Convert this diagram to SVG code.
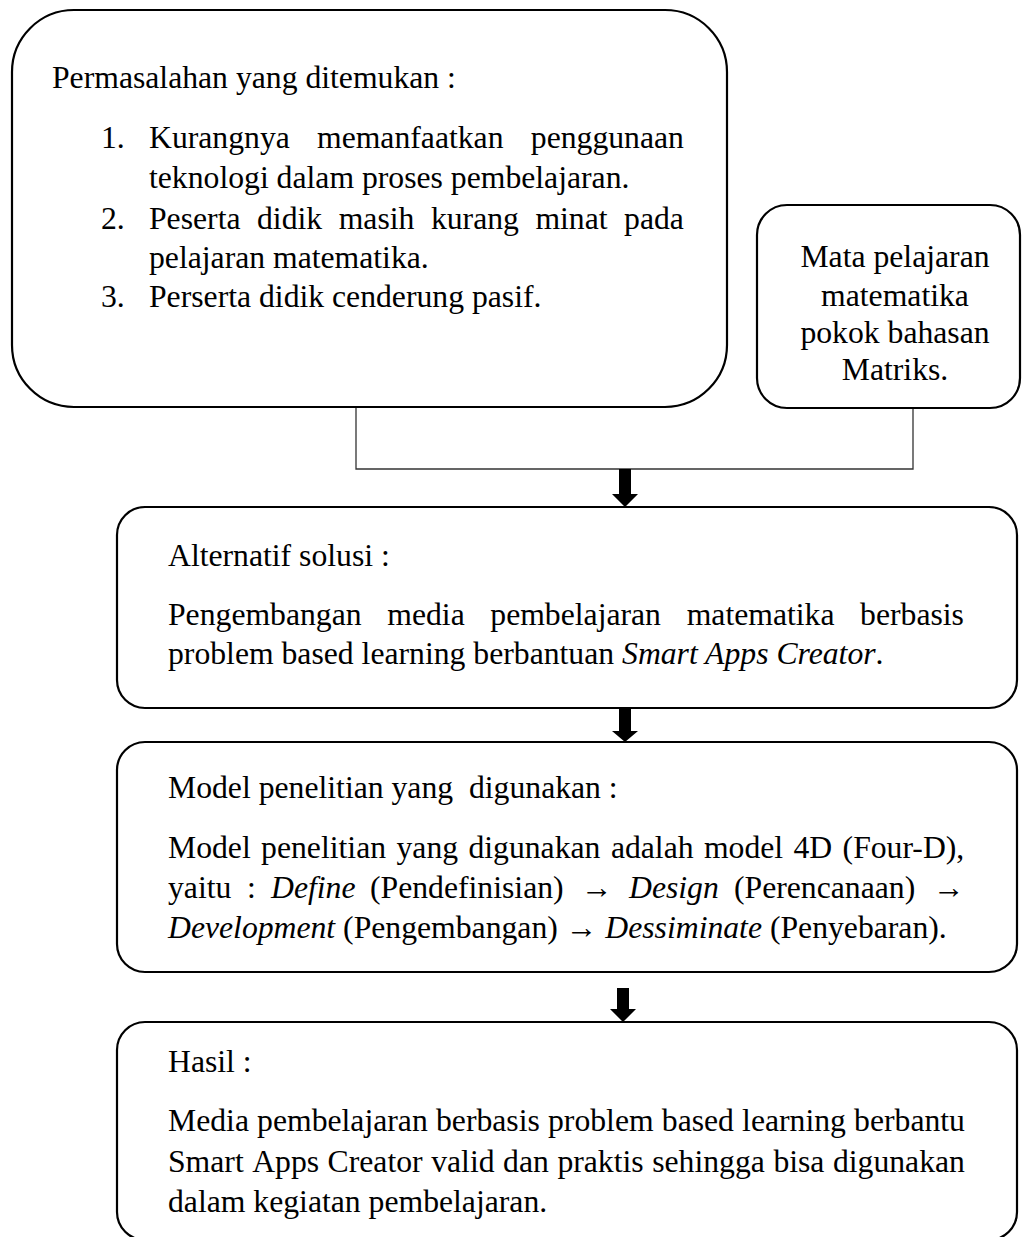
<svg xmlns="http://www.w3.org/2000/svg" width="1023" height="1237" viewBox="0 0 1023 1237">
<style>
.box{fill:#fff;stroke:#000;stroke-width:2.2}
.t{font-family:"Liberation Serif","Times New Roman",serif;font-size:31.7px;fill:#000}
.i{font-style:italic}
.conn{fill:none;stroke:#333;stroke-width:1.3}
.arr{fill:#000;stroke:none}
</style>
<rect width="1023" height="1237" fill="#fff"/>
<g id="connectors">
<path class="conn" d="M356 407 V469 H913 V408"/>
<polygon class="arr" points="619,469 631,469 631,494 638,494 625,507 612,494 619,494"/>
<polygon class="arr" points="619,709 631,709 631,731 638,731 625,742 612,731 619,731"/>
<polygon class="arr" points="617,988 629,988 629,1009 636,1009 623,1022 610,1009 617,1009"/>
</g>
<g id="node-permasalahan">
<rect class="box" x="12" y="10" width="715" height="397" rx="62" ry="62"/>
<text class="t" x="52" y="88">Permasalahan yang ditemukan :</text>
<text class="t" y="148"><tspan x="101">1.</tspan><tspan x="149">Kurangnya</tspan><tspan x="317">memanfaatkan</tspan><tspan x="530.8">penggunaan</tspan></text>
<text class="t" x="149" y="188">teknologi dalam proses pembelajaran.</text>
<text class="t" y="229"><tspan x="101">2.</tspan><tspan x="149">Peserta</tspan><tspan x="257">didik</tspan><tspan x="338.7">masih</tspan><tspan x="430.9">kurang</tspan><tspan x="535.4">minat</tspan><tspan x="624.1">pada</tspan></text>
<text class="t" x="149" y="268">pelajaran matematika.</text>
<text class="t" y="307"><tspan x="101">3.</tspan><tspan x="149">Perserta didik cenderung pasif.</tspan></text>
</g>
<g id="node-matapelajaran">
<rect class="box" x="757" y="205" width="263" height="203" rx="30" ry="30"/>
<text class="t" text-anchor="middle" x="895" y="267">Mata pelajaran</text>
<text class="t" text-anchor="middle" x="895" y="306">matematika</text>
<text class="t" text-anchor="middle" x="895" y="343">pokok bahasan</text>
<text class="t" text-anchor="middle" x="895" y="380">Matriks.</text>
</g>
<g id="node-solusi">
<rect class="box" x="117" y="507" width="900" height="201" rx="28" ry="28"/>
<text class="t" x="168" y="566">Alternatif solusi :</text>
<text class="t" y="625"><tspan x="168">Pengembangan</tspan><tspan x="387.3">media</tspan><tspan x="490.3">pembelajaran</tspan><tspan x="686.7">matematika</tspan><tspan x="860.1">berbasis</tspan></text>
<text class="t" x="168" y="664">problem based learning berbantuan <tspan class="i">Smart Apps Creator</tspan>.</text>
</g>
<g id="node-model">
<rect class="box" x="117" y="742" width="900" height="230" rx="28" ry="28"/>
<text class="t" x="168" y="798" xml:space="preserve">Model penelitian yang  digunakan :</text>
<text class="t" y="858"><tspan x="168">Model</tspan><tspan x="261.1">penelitian</tspan><tspan x="396.5">yang</tspan><tspan x="468.4">digunakan</tspan><tspan x="610.9">adalah</tspan><tspan x="703.9">model</tspan><tspan x="793.5">4D</tspan><tspan x="842.6">(Four-D),</tspan></text>
<text class="t" y="898"><tspan x="168">yaitu</tspan><tspan x="247">:</tspan><tspan x="271" class="i">Define</tspan><tspan x="370">(Pendefinisian)</tspan><tspan x="581">→</tspan><tspan x="629" class="i">Design</tspan><tspan x="734">(Perencanaan)</tspan><tspan x="933">→</tspan></text>
<text class="t" x="168" y="938"><tspan class="i">Development</tspan> (Pengembangan) → <tspan class="i">Dessiminate</tspan> (Penyebaran).</text>
</g>
<g id="node-hasil">
<rect class="box" x="117" y="1022" width="900" height="218" rx="28" ry="28"/>
<text class="t" x="168" y="1072">Hasil :</text>
<text class="t" y="1131"><tspan x="168">Media</tspan><tspan x="257.1">pembelajaran</tspan><tspan x="436">berbasis</tspan><tspan x="548">problem</tspan><tspan x="661.8">based</tspan><tspan x="742.1">learning</tspan><tspan x="854.1">berbantu</tspan></text>
<text class="t" y="1172"><tspan x="168">Smart</tspan><tspan x="252.2">Apps</tspan><tspan x="327.6">Creator</tspan><tspan x="431.2">valid</tspan><tspan x="503.1">dan</tspan><tspan x="557.4">praktis</tspan><tspan x="652.2">sehingga</tspan><tspan x="773.4">bisa</tspan><tspan x="832.9">digunakan</tspan></text>
<text class="t" x="168" y="1212">dalam kegiatan pembelajaran.</text>
</g>
</svg>
